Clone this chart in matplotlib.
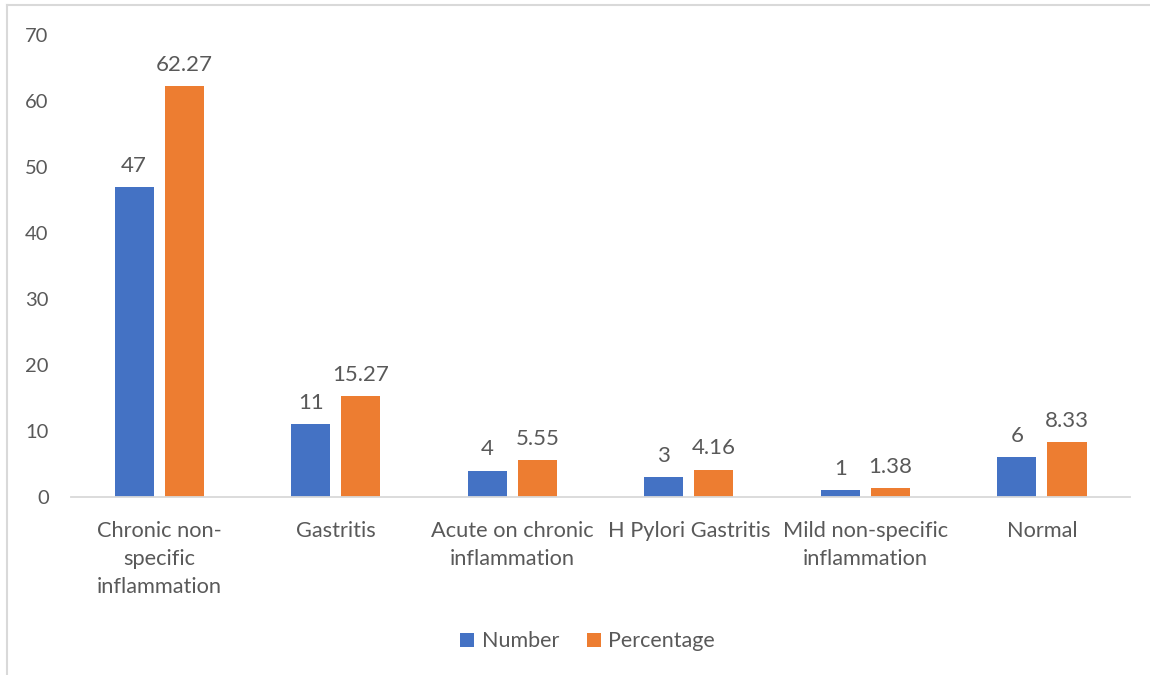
import matplotlib
matplotlib.use("Agg")
import matplotlib.pyplot as plt
import numpy as np

categories = ["Chronic non-\nspecific\ninflammation", "Gastritis",
              "Acute on chronic\ninflammation", "H Pylori Gastritis",
              "Mild non-specific\ninflammation", "Normal"]
number = [47, 11, 4, 3, 1, 6]
percentage = [62.27, 15.27, 5.55, 4.16, 1.38, 8.33]
number_labels = ["47", "11", "4", "3", "1", "6"]
percentage_labels = ["62.27", "15.27", "5.55", "4.16", "1.38", "8.33"]
y_ticks = [0, 10, 20, 30, 40, 50, 60, 70]

BLUE = "#4472C4"
ORANGE = "#ED7D31"
TEXT = "#595959"
FONT = ["Lato", "DejaVu Sans"]

plt.rcParams["font.family"] = FONT

fig = plt.figure(figsize=(11.5, 6.75), dpi=100)
ax = fig.add_axes([0.0617, 0.2637, 0.921, 0.6844])

x = np.arange(len(categories))
w = 0.222
off = 0.142
b1 = ax.bar(x - off, number, width=w, color=BLUE, label="Number")
b2 = ax.bar(x + off, percentage, width=w, color=ORANGE, label="Percentage")

for bars, labels in ((b1, number_labels), (b2, percentage_labels)):
    for rect, lab in zip(bars, labels):
        ax.annotate(lab, (rect.get_x() + rect.get_width() / 2, rect.get_height()),
                    xytext=(0, 8), textcoords="offset points",
                    ha="center", va="bottom", fontsize=16, color=TEXT)

ax.set_xlim(-0.5, len(categories) - 0.5)
ax.set_ylim(0, 70)
ax.set_yticks(y_ticks)
ax.set_yticklabels([str(t) for t in y_ticks], fontsize=14.5, color=TEXT)
ax.set_xticks(x)
ax.set_xticklabels(categories, fontsize=15.7, color=TEXT, linespacing=1.5)
ax.tick_params(axis="both", length=0)
ax.tick_params(axis="y", pad=16)
ax.tick_params(axis="x", pad=17)
for s in ("top", "right", "left"):
    ax.spines[s].set_visible(False)
ax.spines["bottom"].set_color("#D9D9D9")
ax.spines["bottom"].set_linewidth(1.3)

leg = fig.legend(handles=[b1, b2], loc="center", bbox_to_anchor=(0.511, 0.050),
                 ncol=2, frameon=False, fontsize=15.5, handlelength=0.65,
                 handleheight=0.65, handletextpad=0.35, columnspacing=1.3)
for t in leg.get_texts():
    t.set_color(TEXT)

# chart area frame
fig.add_artist(plt.Line2D([0.0065, 0.0065], [0.0, 0.993], transform=fig.transFigure,
                          color="#D9D9D9", linewidth=1.5))
fig.add_artist(plt.Line2D([0.0065, 1.0], [0.993, 0.993], transform=fig.transFigure,
                          color="#D9D9D9", linewidth=1.5))

fig.savefig("out.png", dpi=100, facecolor="white")
